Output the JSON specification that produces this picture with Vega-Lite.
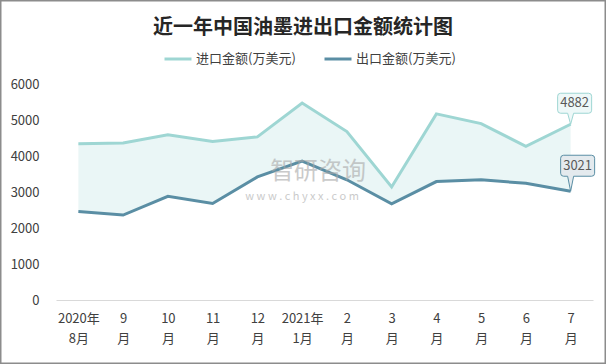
{
  "$schema": "https://vega.github.io/schema/vega-lite/v6.json",
  "width": 606,
  "height": 364,
  "autosize": "none",
  "padding": 0,
  "background": "white",
  "config": {
    "font": "Noto Sans CJK SC",
    "view": {"stroke": "#8c8c8c", "strokeWidth": 3}
  },
  "title": {
    "text": "近一年中国油墨进出口金额统计图",
    "fontSize": 20,
    "fontWeight": "bold",
    "color": "#262626",
    "anchor": "middle",
    "frame": "group",
    "baseline": "middle",
    "dy": 52
  },
  "data": {
    "values": [
      {"month": "2020年|8月", "series": "进口金额(万美元)", "value": 4340},
      {"month": "9|月", "series": "进口金额(万美元)", "value": 4360},
      {"month": "10|月", "series": "进口金额(万美元)", "value": 4590},
      {"month": "11|月", "series": "进口金额(万美元)", "value": 4400},
      {"month": "12|月", "series": "进口金额(万美元)", "value": 4530},
      {"month": "2021年|1月", "series": "进口金额(万美元)", "value": 5470},
      {"month": "2|月", "series": "进口金额(万美元)", "value": 4680},
      {"month": "3|月", "series": "进口金额(万美元)", "value": 3140},
      {"month": "4|月", "series": "进口金额(万美元)", "value": 5170},
      {"month": "5|月", "series": "进口金额(万美元)", "value": 4900},
      {"month": "6|月", "series": "进口金额(万美元)", "value": 4270},
      {"month": "7|月", "series": "进口金额(万美元)", "value": 4882},
      {"month": "2020年|8月", "series": "出口金额(万美元)", "value": 2460},
      {"month": "9|月", "series": "出口金额(万美元)", "value": 2360},
      {"month": "10|月", "series": "出口金额(万美元)", "value": 2880},
      {"month": "11|月", "series": "出口金额(万美元)", "value": 2680},
      {"month": "12|月", "series": "出口金额(万美元)", "value": 3420},
      {"month": "2021年|1月", "series": "出口金额(万美元)", "value": 3860},
      {"month": "2|月", "series": "出口金额(万美元)", "value": 3340},
      {"month": "3|月", "series": "出口金额(万美元)", "value": 2670},
      {"month": "4|月", "series": "出口金额(万美元)", "value": 3290},
      {"month": "5|月", "series": "出口金额(万美元)", "value": 3340},
      {"month": "6|月", "series": "出口金额(万美元)", "value": 3240},
      {"month": "7|月", "series": "出口金额(万美元)", "value": 3021}
    ]
  },
  "encoding": {
    "x": {
      "field": "month",
      "type": "ordinal",
      "sort": ["2020年|8月", "9|月", "10|月", "11|月", "12|月", "2021年|1月", "2|月", "3|月", "4|月", "5|月", "6|月", "7|月"],
      "scale": {"type": "point", "range": [56, 593], "padding": 0.5},
      "axis": {
        "title": null,
        "labelExpr": "split(datum.label, '|')",
        "offset": -64,
        "domainColor": "#d9d9d9",
        "domainWidth": 1,
        "ticks": false,
        "grid": false,
        "labelAngle": 0,
        "labelFontSize": 13,
        "labelColor": "#404040",
        "labelPadding": 12,
        "labelLineHeight": 20,
        "labelBaseline": "top"
      }
    }
  },
  "layer": [
    {
      "transform": [
        {"pivot": "series", "value": "value", "groupby": ["month"]}
      ],
      "mark": {"type": "area", "color": "#eaf6f6", "opacity": 1},
      "encoding": {
        "y": {
          "field": "进口金额(万美元)",
          "type": "quantitative",
          "scale": {"domain": [0, 6000], "range": [300, 84], "nice": false},
          "axis": {
            "title": null,
            "format": "d",
            "offset": -56,
            "domain": false,
            "ticks": false,
            "grid": false,
            "values": [0, 1000, 2000, 3000, 4000, 5000, 6000],
            "labelFontSize": 13,
            "labelColor": "#404040",
            "labelPadding": 17
          }
        },
        "y2": {"field": "出口金额(万美元)"}
      }
    },
    {
      "mark": {"type": "line", "strokeWidth": 3},
      "encoding": {
        "y": {"field": "value", "type": "quantitative"},
        "color": {
          "field": "series",
          "type": "nominal",
          "scale": {"domain": ["进口金额(万美元)", "出口金额(万美元)"], "range": ["#9ed6d3", "#5a8ea4"]},
          "legend": {
            "title": null,
            "orient": "none",
            "legendX": 163,
            "legendY": 44,
            "direction": "horizontal",
            "symbolType": "stroke",
            "symbolSize": 729,
            "symbolStrokeWidth": 3,
            "labelFontSize": 13,
            "labelColor": "#404040",
            "labelOffset": 3,
            "columnPadding": 22,
            "padding": 0
          }
        }
      }
    },
    {
      "transform": [{"filter": "datum.month == '7|月' && datum.series == '进口金额(万美元)'"}],
      "mark": {
        "type": "point",
        "shape": "M-10,-31 H18 Q21,-31 21,-28 V-14 Q21,-11 18,-11 H3 L0,0 L-3,-11 H-10 Q-13,-11 -13,-14 V-28 Q-13,-31 -10,-31 Z",
        "size": 4,
        "filled": true,
        "fill": "#eef8f8",
        "stroke": "#9ed6d3",
        "strokeWidth": 1,
        "opacity": 1
      },
      "encoding": {"y": {"field": "value", "type": "quantitative"}}
    },
    {
      "transform": [{"filter": "datum.month == '7|月' && datum.series == '进口金额(万美元)'"}],
      "mark": {"type": "text", "dx": 4, "dy": -21, "align": "center", "baseline": "middle", "fontSize": 13, "color": "#595959"},
      "encoding": {"y": {"field": "value", "type": "quantitative"}, "text": {"field": "value", "type": "quantitative"}}
    },
    {
      "transform": [{"filter": "datum.month == '7|月' && datum.series == '出口金额(万美元)'"}],
      "mark": {
        "type": "point",
        "shape": "M-7,-36 H21 Q24,-36 24,-33 V-18 Q24,-15 21,-15 H3 L0,0 L-3,-15 H-7 Q-10,-15 -10,-18 V-33 Q-10,-36 -7,-36 Z",
        "size": 4,
        "filled": true,
        "fill": "#e4eaee",
        "stroke": "#5a8ea4",
        "strokeWidth": 1,
        "opacity": 1
      },
      "encoding": {"y": {"field": "value", "type": "quantitative"}}
    },
    {
      "transform": [{"filter": "datum.month == '7|月' && datum.series == '出口金额(万美元)'"}],
      "mark": {"type": "text", "dx": 7, "dy": -25, "align": "center", "baseline": "middle", "fontSize": 13, "color": "#595959"},
      "encoding": {"y": {"field": "value", "type": "quantitative"}, "text": {"field": "value", "type": "quantitative"}}
    },
    {
      "data": {"values": [{}]},
      "mark": {"type": "text", "text": "智研咨询", "dx": 16, "align": "center", "baseline": "middle", "fontSize": 24, "color": "#a8a8a8", "opacity": 0.6},
      "encoding": {"x": {"datum": "2021年|1月"}, "y": {"datum": 3560}}
    },
    {
      "data": {"values": [{}]},
      "mark": {"type": "text", "text": "w w w . c h y x x . c o m", "align": "center", "baseline": "middle", "fontSize": 11, "color": "#a8a8a8", "opacity": 0.6},
      "encoding": {"x": {"datum": "2021年|1月"}, "y": {"datum": 2850}}
    }
  ]
}
